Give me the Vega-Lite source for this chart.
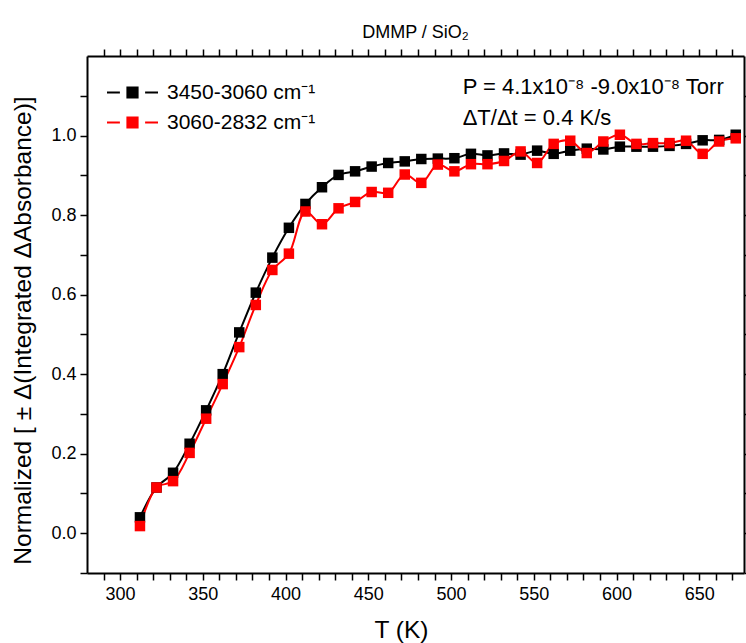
{
  "$schema": "https://vega.github.io/schema/vega-lite/v6.json",
  "width": 657,
  "height": 517,
  "autosize": {"type": "none"},
  "padding": {"left": 87, "top": 56, "right": 2, "bottom": 70},
  "title": {"text": "DMMP / SiO₂", "fontSize": 18, "font": "Liberation Sans", "fontWeight": "normal", "color": "#000000", "offset": 6, "anchor": "middle"},
  "config": {
    "font": "Liberation Sans",
    "view": {"stroke": null},
    "title": {"fontSize": 18, "fontWeight": "normal", "color": "#000000", "font": "Liberation Sans"},
    "axis": {"domainColor": "#000000", "domainWidth": 2, "tickColor": "#000000", "tickWidth": 1.5, "grid": false, "labelColor": "#000000", "labelFont": "Liberation Sans", "labelFontSize": 18, "titleFont": "Liberation Sans", "titleFontWeight": "normal", "titleColor": "#000000", "titleFontSize": 24.5}
  },
  "data": {
    "values": [
      {"T": 312, "value": 0.040, "series": "3450-3060 cm⁻¹"},
      {"T": 322, "value": 0.115, "series": "3450-3060 cm⁻¹"},
      {"T": 332, "value": 0.152, "series": "3450-3060 cm⁻¹"},
      {"T": 342, "value": 0.225, "series": "3450-3060 cm⁻¹"},
      {"T": 352, "value": 0.309, "series": "3450-3060 cm⁻¹"},
      {"T": 362, "value": 0.400, "series": "3450-3060 cm⁻¹"},
      {"T": 372, "value": 0.505, "series": "3450-3060 cm⁻¹"},
      {"T": 382, "value": 0.605, "series": "3450-3060 cm⁻¹"},
      {"T": 392, "value": 0.693, "series": "3450-3060 cm⁻¹"},
      {"T": 402, "value": 0.768, "series": "3450-3060 cm⁻¹"},
      {"T": 412, "value": 0.828, "series": "3450-3060 cm⁻¹"},
      {"T": 422, "value": 0.870, "series": "3450-3060 cm⁻¹"},
      {"T": 432, "value": 0.901, "series": "3450-3060 cm⁻¹"},
      {"T": 442, "value": 0.910, "series": "3450-3060 cm⁻¹"},
      {"T": 452, "value": 0.922, "series": "3450-3060 cm⁻¹"},
      {"T": 462, "value": 0.931, "series": "3450-3060 cm⁻¹"},
      {"T": 472, "value": 0.935, "series": "3450-3060 cm⁻¹"},
      {"T": 482, "value": 0.941, "series": "3450-3060 cm⁻¹"},
      {"T": 492, "value": 0.942, "series": "3450-3060 cm⁻¹"},
      {"T": 502, "value": 0.943, "series": "3450-3060 cm⁻¹"},
      {"T": 512, "value": 0.954, "series": "3450-3060 cm⁻¹"},
      {"T": 522, "value": 0.950, "series": "3450-3060 cm⁻¹"},
      {"T": 532, "value": 0.955, "series": "3450-3060 cm⁻¹"},
      {"T": 542, "value": 0.952, "series": "3450-3060 cm⁻¹"},
      {"T": 552, "value": 0.962, "series": "3450-3060 cm⁻¹"},
      {"T": 562, "value": 0.954, "series": "3450-3060 cm⁻¹"},
      {"T": 572, "value": 0.962, "series": "3450-3060 cm⁻¹"},
      {"T": 582, "value": 0.967, "series": "3450-3060 cm⁻¹"},
      {"T": 592, "value": 0.965, "series": "3450-3060 cm⁻¹"},
      {"T": 602, "value": 0.972, "series": "3450-3060 cm⁻¹"},
      {"T": 612, "value": 0.972, "series": "3450-3060 cm⁻¹"},
      {"T": 622, "value": 0.972, "series": "3450-3060 cm⁻¹"},
      {"T": 632, "value": 0.974, "series": "3450-3060 cm⁻¹"},
      {"T": 642, "value": 0.979, "series": "3450-3060 cm⁻¹"},
      {"T": 652, "value": 0.988, "series": "3450-3060 cm⁻¹"},
      {"T": 662, "value": 0.989, "series": "3450-3060 cm⁻¹"},
      {"T": 672, "value": 1.002, "series": "3450-3060 cm⁻¹"},
      {"T": 312, "value": 0.018, "series": "3060-2832 cm⁻¹"},
      {"T": 322, "value": 0.115, "series": "3060-2832 cm⁻¹"},
      {"T": 332, "value": 0.131, "series": "3060-2832 cm⁻¹"},
      {"T": 342, "value": 0.202, "series": "3060-2832 cm⁻¹"},
      {"T": 352, "value": 0.288, "series": "3060-2832 cm⁻¹"},
      {"T": 362, "value": 0.375, "series": "3060-2832 cm⁻¹"},
      {"T": 372, "value": 0.468, "series": "3060-2832 cm⁻¹"},
      {"T": 382, "value": 0.574, "series": "3060-2832 cm⁻¹"},
      {"T": 392, "value": 0.662, "series": "3060-2832 cm⁻¹"},
      {"T": 402, "value": 0.703, "series": "3060-2832 cm⁻¹"},
      {"T": 412, "value": 0.809, "series": "3060-2832 cm⁻¹"},
      {"T": 422, "value": 0.777, "series": "3060-2832 cm⁻¹"},
      {"T": 432, "value": 0.817, "series": "3060-2832 cm⁻¹"},
      {"T": 442, "value": 0.833, "series": "3060-2832 cm⁻¹"},
      {"T": 452, "value": 0.858, "series": "3060-2832 cm⁻¹"},
      {"T": 462, "value": 0.856, "series": "3060-2832 cm⁻¹"},
      {"T": 472, "value": 0.902, "series": "3060-2832 cm⁻¹"},
      {"T": 482, "value": 0.881, "series": "3060-2832 cm⁻¹"},
      {"T": 492, "value": 0.927, "series": "3060-2832 cm⁻¹"},
      {"T": 502, "value": 0.910, "series": "3060-2832 cm⁻¹"},
      {"T": 512, "value": 0.928, "series": "3060-2832 cm⁻¹"},
      {"T": 522, "value": 0.928, "series": "3060-2832 cm⁻¹"},
      {"T": 532, "value": 0.936, "series": "3060-2832 cm⁻¹"},
      {"T": 542, "value": 0.960, "series": "3060-2832 cm⁻¹"},
      {"T": 552, "value": 0.931, "series": "3060-2832 cm⁻¹"},
      {"T": 562, "value": 0.979, "series": "3060-2832 cm⁻¹"},
      {"T": 572, "value": 0.987, "series": "3060-2832 cm⁻¹"},
      {"T": 582, "value": 0.956, "series": "3060-2832 cm⁻¹"},
      {"T": 592, "value": 0.985, "series": "3060-2832 cm⁻¹"},
      {"T": 602, "value": 1.002, "series": "3060-2832 cm⁻¹"},
      {"T": 612, "value": 0.979, "series": "3060-2832 cm⁻¹"},
      {"T": 622, "value": 0.981, "series": "3060-2832 cm⁻¹"},
      {"T": 632, "value": 0.981, "series": "3060-2832 cm⁻¹"},
      {"T": 642, "value": 0.987, "series": "3060-2832 cm⁻¹"},
      {"T": 652, "value": 0.954, "series": "3060-2832 cm⁻¹"},
      {"T": 662, "value": 0.985, "series": "3060-2832 cm⁻¹"},
      {"T": 672, "value": 0.993, "series": "3060-2832 cm⁻¹"}
    ]
  },
  "resolve": {"axis": {"x": "independent", "y": "independent"}},
  "layer": [
    {
      "mark": {"type": "line", "interpolate": "catmull-rom", "strokeWidth": 2},
      "encoding": {
        "x": {"field": "T", "type": "quantitative", "scale": {"domain": [280, 677], "nice": false, "zero": false},
          "axis": {"orient": "bottom", "title": "T (K)", "titleX": 314, "values": [290,300,310,320,330,340,350,360,370,380,390,400,410,420,430,440,450,460,470,480,490,500,510,520,530,540,550,560,570,580,590,600,610,620,630,640,650,660,670],
            "labelExpr": "datum.value % 50 === 0 ? datum.label : ''", "tickSize": 7, "labelPadding": 5, "titlePadding": 15, "labelFlush": false}},
        "y": {"field": "value", "type": "quantitative", "scale": {"domain": [-0.1, 1.2], "nice": false, "zero": false},
          "axis": {"orient": "left", "title": "Normalized [ ± Δ(Integrated ΔAbsorbance)]", "titleY": 274, "values": [-0.1,0,0.1,0.2,0.3,0.4,0.5,0.6,0.7,0.8,0.9,1.0,1.1],
            "format": ".1f", "labelExpr": "round(datum.value*10) % 2 === 0 ? datum.label : ''", "tickSize": 7, "labelPadding": 4, "titlePadding": 15, "labelFlush": false}},
        "color": {"field": "series", "type": "nominal", "sort": ["3450-3060 cm⁻¹", "3060-2832 cm⁻¹"],
          "scale": {"domain": ["3450-3060 cm⁻¹", "3060-2832 cm⁻¹"], "range": ["#000000", "#ff0000"]},
          "legend": {"title": null, "orient": "none", "legendX": 35, "legendY": 26, "padding": 0, "symbolType": "M-4.25,0H-2.1M2.1,0H4.25M-0.85,-0.85H0.85V0.85H-0.85Z", "symbolSize": 144, "symbolStrokeWidth": 2, "labelOffset": 24, "labelFontSize": 21, "labelFont": "Liberation Sans", "labelColor": "#000000", "rowPadding": 8, "labelLimit": 400,
            "encode": {"symbols": {"update": {"fill": {"scale": "color", "field": "value"}, "stroke": {"scale": "color", "field": "value"}, "strokeWidth": {"value": 2}, "opacity": {"value": 1}}}}}}
      }
    },
    {
      "mark": {"type": "point", "shape": "square", "filled": true, "size": 110, "opacity": 1},
      "encoding": {
        "x": {"field": "T", "type": "quantitative",
          "axis": {"orient": "top", "title": null, "values": [290,300,310,320,330,340,350,360,370,380,390,400,410,420,430,440,450,460,470,480,490,500,510,520,530,540,550,560,570,580,590,600,610,620,630,640,650,660,670], "labels": false, "tickSize": 7}},
        "y": {"field": "value", "type": "quantitative",
          "axis": {"orient": "right", "title": null, "values": [-0.1,0,0.1,0.2,0.3,0.4,0.5,0.6,0.7,0.8,0.9,1.0,1.1], "labels": false, "tickSize": 7}},
        "color": {"field": "series", "type": "nominal", "sort": ["3450-3060 cm⁻¹", "3060-2832 cm⁻¹"]}
      }
    },
    {
      "data": {"values": [{}]},
      "mark": {"type": "text", "align": "left", "baseline": "top", "fontSize": 22, "font": "Liberation Sans", "fill": "#000000", "lineHeight": 31,
        "text": ["P = 4.1x10⁻⁸ -9.0x10⁻⁸ Torr", "ΔT/Δt = 0.4 K/s"]},
      "encoding": {
        "x": {"datum": 507, "type": "quantitative", "axis": null},
        "y": {"datum": 1.148, "type": "quantitative", "axis": null}
      }
    }
  ]
}
